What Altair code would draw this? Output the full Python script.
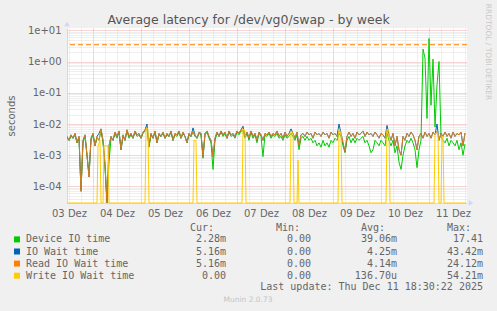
import json
import altair as alt
import pandas as pd

# ---------------- data ----------------
# one sample per hour, first sample at t0 hours after 03 Dez 00:00
t0 = 11
device_ms = [
    3.5, 3.0, 4.0, 3.5, 4.5, 2.5, 3.5, 0.08, 2.5, 4.0,
    1.0, 0.25, 3.0, 4.5, 2.0, 3.5, 3.0, 6.0, 2.5, 0.4,
    0.0, 0.6, 3.5, 3.0, 5.0, 3.5, 5.5, 1.5, 4.0, 3.0,
    6.0, 3.5, 4.5, 3.5, 5.5, 4.0, 4.5, 3.5, 5.0, 6.0,
    7.0, 1.8, 4.5, 3.5, 5.5, 2.5, 4.5, 4.0, 5.0, 3.5,
    4.5, 4.0, 5.5, 3.0, 4.5, 4.0, 5.5, 3.5, 5.0, 4.0,
    2.5, 4.5, 4.0, 5.5, 4.0, 3.5, 5.0, 4.5, 0.8, 4.5,
    5.5, 3.5, 2.5, 0.35, 3.0, 5.0, 4.0, 5.5, 4.0, 5.0,
    3.5, 5.5, 4.0, 4.5, 3.5, 5.5, 4.5, 6.0, 6.0, 3.5,
    5.0, 3.0, 5.5, 3.5, 4.5, 2.5, 5.0, 4.0, 0.9, 4.5,
    4.0, 5.0, 3.5, 4.5, 4.0, 5.0, 3.5, 4.0, 3.0, 4.5,
    3.5, 4.0, 5.0, 4.0, 3.0, 4.5, 1.5, 3.5, 4.0, 3.0,
    4.0, 3.0, 3.5, 2.5, 3.0, 2.0, 2.5, 1.8, 3.0, 2.0,
    2.5, 1.8, 3.0, 2.5, 3.5, 3.0, 5.0, 4.0, 2.0, 1.2,
    3.0, 4.0, 2.5, 3.5, 2.5, 3.5, 3.0, 3.5, 4.0, 2.5,
    3.0, 2.0, 1.2, 1.5, 3.0, 2.5, 2.0, 3.0, 2.5, 2.0,
    5.0, 3.0, 2.0, 3.0, 1.2, 2.0, 0.6, 0.35, 1.0, 2.0,
    3.0, 2.5, 3.5, 2.5, 1.5, 0.4, 1.5, 3.0, 2500, 1300,
    15, 5500, 40, 1200, 8, 180, 1000, 4.0, 3.0, 2.5,
    3.5, 2.0, 3.0, 2.5, 2.0, 3.0, 1.5, 2.5, 1.0, 2.28,
]
iowait_ms = [
    4.0, 3.0, 4.5, 3.5, 5.0, 2.5, 4.0, 0.07, 3.0, 4.5,
    1.0, 0.2, 3.5, 5.0, 2.0, 4.0, 5.0, 7.0, 3.0, 0.5,
    0.0, 2.0, 4.0, 3.0, 5.5, 4.0, 6.0, 1.5, 4.5, 3.0,
    6.5, 4.0, 5.0, 3.5, 6.0, 4.5, 5.0, 3.5, 5.5, 6.5,
    10.0, 2.0, 5.0, 3.5, 6.0, 2.5, 5.0, 4.0, 5.5, 3.5,
    5.0, 4.0, 6.0, 3.0, 5.0, 4.5, 6.0, 3.5, 5.5, 4.0,
    2.5, 5.0, 4.0, 7.5, 4.5, 3.5, 5.5, 5.0, 0.9, 5.0,
    6.0, 4.0, 3.0, 0.9, 3.5, 5.5, 4.0, 6.0, 4.5, 5.5,
    3.5, 6.0, 4.5, 5.0, 4.0, 6.0, 5.0, 6.5, 8.5, 4.0,
    5.5, 3.5, 6.0, 4.0, 5.0, 3.0, 5.5, 4.5, 3.0, 5.0,
    4.5, 5.5, 4.0, 5.0, 4.5, 6.0, 4.0, 5.0, 3.5, 5.5,
    4.0, 5.0, 7.0, 5.0, 3.5, 5.5, 2.0, 4.5, 5.0, 4.0,
    5.5, 4.5, 5.0, 3.5, 5.5, 4.5, 5.0, 4.0, 5.5, 4.5,
    5.0, 3.5, 5.5, 4.5, 5.0, 4.0, 10.0, 5.0, 2.5, 1.3,
    4.0, 5.5, 4.0, 5.0, 3.5, 5.5, 4.5, 5.0, 6.0, 4.0,
    5.5, 4.5, 5.0, 4.0, 5.5, 4.5, 3.5, 5.0, 4.5, 3.5,
    9.0, 4.5, 3.0, 5.0, 2.0, 4.0, 1.5, 1.0, 4.0, 3.0,
    5.0, 4.0, 5.5, 4.5, 3.0, 1.5, 4.0, 5.0, 3.5, 5.5,
    4.0, 5.0, 3.5, 5.5, 4.5, 10.0, 3.0, 5.0, 4.0, 5.5,
    4.0, 5.0, 3.5, 5.5, 4.0, 5.0, 4.5, 5.5, 2.0, 5.16,
]
read_ms = [
    4.0, 3.0, 4.5, 3.5, 5.0, 2.5, 4.0, 0.07, 3.0, 4.5,
    1.0, 0.2, 3.5, 5.0, 2.0, 4.0, 3.0, 7.0, 3.0, 0.5,
    0.0, 2.0, 4.0, 3.0, 5.5, 4.0, 6.0, 1.5, 4.5, 3.0,
    6.5, 4.0, 5.0, 3.5, 6.0, 4.5, 5.0, 3.5, 5.5, 6.5,
    8.0, 2.0, 5.0, 3.5, 6.0, 2.5, 5.0, 4.0, 5.5, 3.5,
    5.0, 4.0, 6.0, 3.0, 5.0, 4.5, 6.0, 3.5, 5.5, 4.0,
    2.5, 5.0, 4.0, 6.0, 4.5, 3.5, 5.5, 5.0, 0.9, 5.0,
    6.0, 4.0, 3.0, 0.9, 3.5, 5.5, 4.0, 6.0, 4.5, 5.5,
    3.5, 6.0, 4.5, 5.0, 4.0, 6.0, 5.0, 6.5, 7.0, 4.0,
    5.5, 3.5, 6.0, 4.0, 5.0, 3.0, 5.5, 4.5, 3.0, 5.0,
    4.5, 5.5, 4.0, 5.0, 4.5, 6.0, 4.0, 5.0, 3.5, 5.5,
    4.0, 5.0, 6.0, 5.0, 3.5, 5.5, 2.0, 4.5, 5.0, 4.0,
    5.5, 4.5, 5.0, 3.5, 5.5, 4.5, 5.0, 4.0, 5.5, 4.5,
    5.0, 3.5, 5.5, 4.5, 5.0, 4.0, 6.0, 5.0, 2.5, 1.3,
    4.0, 5.5, 4.0, 5.0, 3.5, 5.5, 4.5, 5.0, 6.0, 4.0,
    5.5, 4.5, 5.0, 4.0, 5.5, 4.5, 3.5, 5.0, 4.5, 3.5,
    6.0, 4.5, 3.0, 5.0, 2.0, 4.0, 1.5, 1.0, 4.0, 3.0,
    5.0, 4.0, 5.5, 4.5, 3.0, 1.5, 4.0, 5.0, 3.5, 5.5,
    4.0, 5.0, 3.5, 5.5, 4.5, 6.0, 3.0, 5.0, 4.0, 5.5,
    4.0, 5.0, 3.5, 5.5, 4.0, 5.0, 4.5, 5.5, 2.0, 5.16,
]
# write wait is zero nearly all the time: (hour, value) pairs around its spikes
write_t = [11, 26.0, 26.5, 27.5, 28.0, 29.0, 29.5, 31.5, 32.0, 50.0, 50.5, 51.5, 52.0,
           74.0, 74.5, 75.5, 76.0, 98.5, 99.0, 100.0, 100.5, 122.5, 123.0, 124.0, 124.5,
           126.0, 126.5, 127.0, 146.5, 147.0, 148.0, 148.5, 170.5, 171.0, 172.0, 172.5,
           194.5, 195.0, 196.5, 197.0, 198.0, 198.5, 199.0, 199.5, 210.5]
write_ms = [0, 0, 2.0, 3.0, 0, 0, 2.0, 2.0, 0, 0, 7.0, 7.0, 0,
            0, 3.0, 3.0, 0, 0, 7.0, 6.0, 0, 0, 6.0, 5.0, 0,
            0, 0.7, 0, 0, 7.0, 5.0, 0, 0, 7.0, 6.0, 0,
            0, 5.0, 5.0, 0, 0, 4.0, 4.0, 0, 0]
warn_level = 3.47

series_names = ["Device IO time", "IO Wait time", "Read IO Wait time", "Write IO Wait time"]
series_colors = ["#00CC00", "#0066B3", "#FF8000", "#FFCC00"]
cur_vals = ["2.28m", "5.16m", "5.16m", "0.00"]
min_vals = ["0.00", "0.00", "0.00", "0.00"]
avg_vals = ["39.06m", "4.25m", "4.14m", "136.70u"]
max_vals = ["17.41", "43.42m", "24.12m", "54.21m"]
col_heads = ["Cur:", "Min:", "Avg:", "Max:"]

x_domain = [11, 211]
y_domain = [2.95e-5, 11.9]
day_labels = ["03 Dez", "04 Dez", "05 Dez", "06 Dez", "07 Dez", "08 Dez", "09 Dez", "10 Dez", "11 Dez"]
decade_labels = ["1e+01", "1e+00", "1e-01", "1e-02", "1e-03", "1e-04"]

title_text = "Average latency for /dev/vg0/swap - by week"
y_title = "seconds"
side_text = "RRDTOOL / TOBI OETIKER"
update_text = "Last update: Thu Dec 11 18:30:22 2025"
footer_text = "Munin 2.0.73"

# ---------------- styling ----------------
FONT = "DejaVu Sans"
MONO = "DejaVu Sans Mono"
TXT = "#666666"
AXIS = "#CFD6F8"
GRID = "#dedede"
MGRID = "#eeaaaa"

hours = [t0 + i for i in range(len(device_ms))]
LOG = "(log(datum.value)/LN10)"
IS_DEC = f"abs({LOG} - round({LOG})) < 0.001"

y_ticks = [m * 10.0 ** e for e in range(-5, 2) for m in range(1, 10)]
y_ticks = [v for v in y_ticks if y_domain[0] <= v <= y_domain[1]]
x_ticks = list(range(12, 211, 6))

xs = alt.Scale(domain=x_domain, nice=False, zero=False)
ys = alt.Scale(type="log", domain=y_domain, nice=False, clamp=True)

x_axis = alt.Axis(
    values=x_ticks,
    labelExpr=f"datum.value % 24 == 12 ? {json.dumps(day_labels)}[floor(datum.value / 24)] : ''",
    grid=True,
    gridColor={"condition": {"test": "datum.value % 24 == 0", "value": MGRID}, "value": GRID},
    gridDash=[1, 1],
    ticks=False,
    domainColor=AXIS,
    labelFont=FONT, labelFontSize=10, labelColor=TXT, labelPadding=5,
    labelOverlap=False, labelFlush=False, labelBound=False,
    title=None,
)
y_axis = alt.Axis(
    values=y_ticks,
    labelExpr=f"{IS_DEC} ? {json.dumps(decade_labels)}[1 - round({LOG})] : ''",
    grid=True,
    gridColor={"condition": {"test": IS_DEC, "value": MGRID}, "value": GRID},
    gridDash=[1, 1],
    ticks=False,
    domainColor=AXIS,
    labelFont=FONT, labelFontSize=10, labelColor=TXT, labelPadding=6,
    labelOverlap=False, labelFlush=False, labelBound=False,
    title=None,
)


def series(df, color, clip=True, opacity=1.0):
    return (
        alt.Chart(df)
        .transform_calculate(vp=f"max(datum.ms / 1000, {y_domain[0]})")
        .mark_line(color=color, strokeWidth=1, clip=clip, opacity=opacity)
        .encode(x=alt.X("t:Q", scale=xs, axis=x_axis), y=alt.Y("vp:Q", scale=ys, axis=y_axis))
    )


ONE = alt.Data(values=[{"k": 0}])


def txt(text, x, y, **kw):
    return alt.Chart(ONE).mark_text(**kw).encode(x=alt.value(x), y=alt.value(y), text=alt.value(text))


layers = [
    series(pd.DataFrame({"t": hours, "ms": device_ms}), series_colors[0]),
    series(pd.DataFrame({"t": hours, "ms": iowait_ms}), series_colors[1]),
    series(pd.DataFrame({"t": hours, "ms": read_ms}), series_colors[2], opacity=0.85),
    series(pd.DataFrame({"t": write_t, "ms": write_ms}), series_colors[3], clip=False),
    alt.Chart(alt.Data(values=[{"w": warn_level}]))
    .mark_rule(color="#FF8000", strokeDash=[5, 3], strokeWidth=1)
    .encode(y=alt.Y("w:Q", scale=ys, axis=y_axis)),
]

# axis arrows
layers.append(alt.Chart(ONE).mark_point(shape="triangle-up", filled=True, size=30, color=AXIS, opacity=1)
              .encode(x=alt.value(0), y=alt.value(-4)))
layers.append(alt.Chart(ONE).mark_point(shape="triangle-right", filled=True, size=30, color=AXIS, opacity=1)
              .encode(x=alt.value(404), y=alt.value(175)))

# title / side texts
layers.append(txt(title_text, 181.5, -8, font=FONT, fontSize=12.5, color="#555555", align="center", baseline="middle"))
layers.append(txt(y_title, -55, 88, font=FONT, fontSize=10, color=TXT, align="center", baseline="middle", angle=270))
layers.append(txt(side_text, 421, 24, font=FONT, fontSize=7.5, color="#c8c8c8", align="center", baseline="middle", angle=90))

# legend
head_x = [123, 209, 294, 380]
for h, hx in zip(col_heads, head_x):
    layers.append(txt(h, hx, 199.7, font=MONO, fontSize=10, color=TXT, align="left", baseline="middle"))

col_right = [159, 244, 330, 416]


def fmt(s):
    return s if s[-1].isalpha() else s + "\u00a0"


for i, name in enumerate(series_names):
    yy = 211.4 + 12.1 * i
    layers.append(alt.Chart(ONE).mark_square(size=36, color=series_colors[i], opacity=1)
                  .encode(x=alt.value(-50), y=alt.value(yy)))
    layers.append(txt(name, -41, yy, font=MONO, fontSize=10, color=TXT, align="left", baseline="middle"))
    for vals, rx in zip([cur_vals, min_vals, avg_vals, max_vals], col_right):
        layers.append(txt(fmt(vals[i]), rx, yy, font=MONO, fontSize=10, color=TXT, align="right", baseline="middle"))

layers.append(txt(update_text, 416, 259.3, font=MONO, fontSize=10, color=TXT, align="right", baseline="middle"))
layers.append(txt(footer_text, 181, 272, font=FONT, fontSize=7.5, color="#c4c4c4", align="center", baseline="middle"))

chart = (
    alt.layer(*layers)
    .properties(
        width=400, height=175,
        padding={"left": 67, "top": 28, "right": 30, "bottom": 108},
        autosize=alt.AutoSizeParams(type="none"),
    )
    .configure(background="#F0F0F0")
    .configure_view(fill="white", stroke=None)
)

chart.save("out.html", embed_options={"renderer": "svg", "actions": False})
